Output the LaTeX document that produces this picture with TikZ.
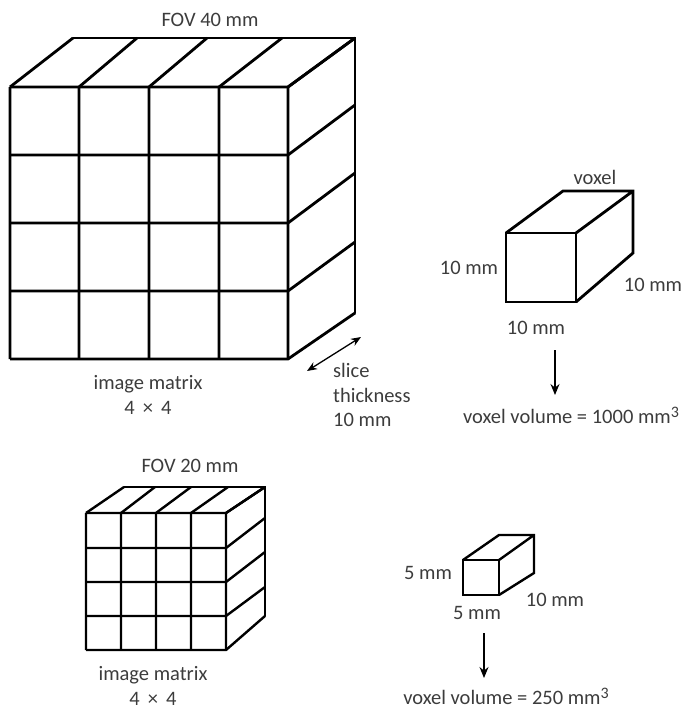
\documentclass[tikz,border=0pt]{standalone}
\usepackage{fontspec}
\setmainfont{Carlito}
\usepackage{tikz}
\usetikzlibrary{arrows.meta}
\definecolor{labelgray}{RGB}{60, 60, 60}
\newcommand{\cubed}{\raisebox{6pt}{\fontsize{16}{16}\selectfont 3}}
\tikzset{
  dimtext/.style={
    inner sep=0pt, align=center,
    text=labelgray, font=\fontsize{20.5}{24.5}\selectfont
  },
  bigedge/.style={line width=2.8pt, line join=miter, color=black},
  smalledge/.style={line width=2.4pt, line join=miter, color=black},
  arr/.style={-{Stealth[length=11pt,width=9pt]}, line width=1.3pt, color=black},
  darr/.style={{Stealth[length=10pt,width=8pt]}-{Stealth[length=10pt,width=8pt]}, line width=1.3pt, color=black},
}

\begin{document}
\begin{tikzpicture}[x=1pt, y=-1pt]
  \useasboundingbox (0,0) rectangle (682,710);

  % Large matrix
  \foreach \xa/\xb in {10/73, 79/137, 149/207, 219/282, 288/355}
    \draw[bigedge] (\xa,87) -- (\xa,359) (\xa,87) -- (\xb,38);
  \foreach \ya/\yb in {87/38, 155/105, 223/173, 291/242, 359/313}
    \draw[bigedge] (10,\ya) -- (288,\ya) -- (355,\yb);
  \draw[bigedge, line cap=round] (73,38) -- (355,38) -- (355,313);

  % Small matrix
  \foreach \xa/\xb in {86/124, 121/155, 156/191, 191/228, 226/265}
    \draw[smalledge] (\xa,513) -- (\xa,650) (\xa,513) -- (\xb,487);
  \foreach \ya/\yb in {513/487, 548/518, 582/552, 616/587, 650/616}
    \draw[smalledge] (86,\ya) -- (226,\ya) -- (265,\yb);
  \draw[smalledge, line cap=round] (124,487) -- (265,487) -- (265,616);

  % Voxels
  \draw[bigedge] (506,233) rectangle (576,302);
  \draw[bigedge] (506,233) -- (563,191) -- (633,191) -- (633,253) -- (576,302)
    (576,233) -- (633,191);
  \draw[smalledge] (463,560) rectangle (499,595);
  \draw[smalledge] (463,560) -- (499,535) -- (534,535) -- (534,573) -- (499,595)
    (499,560) -- (534,535);

  % Labels
  \node[dimtext] (fovbig) at (210,20) {FOV 40 mm};
  \node[dimtext] (matrixbig) at (148,395) {image matrix\\4 \,×\, 4};
  \node[dimtext, align=left, anchor=west] (slice) at (333,395) {slice\\thickness\\10 mm};
  \node[dimtext] (voxeltop) at (595,177) {voxel};
  \node[dimtext] (voxelleft) at (469,268) {10 mm};
  \node[dimtext] (voxelright) at (653,285) {10 mm};
  \node[dimtext] (voxelbottom) at (536,328) {10 mm};
  \node[dimtext] (volbig) at (571,415) {voxel volume = 1000 mm\cubed};
  \node[dimtext] (fovsmall) at (190,466) {FOV 20 mm};
  \node[dimtext] (matrixsmall) at (153,686) {image matrix\\4 \,×\, 4};
  \node[dimtext] (smallleft) at (428,573) {5 mm};
  \node[dimtext] (smallbottom) at (477,613) {5 mm};
  \node[dimtext] (smallright) at (555,600) {10 mm};
  \node[dimtext] (volsmall) at (506,696) {voxel volume = 250 mm\cubed};

  % Arrows
  \coordinate (thickfront) at (307,371);
  \coordinate (thickback)  at (361,337);
  \coordinate (bigfrom)    at (555,350);
  \coordinate (bigto)      at (555,395);
  \coordinate (smallfrom)  at (484,633);
  \coordinate (smallto)    at (484,678);
  \draw[darr] (thickfront) -- (thickback);
  \draw[arr] (bigfrom) -- (bigto);
  \draw[arr] (smallfrom) -- (smallto);

\end{tikzpicture}
\end{document}
